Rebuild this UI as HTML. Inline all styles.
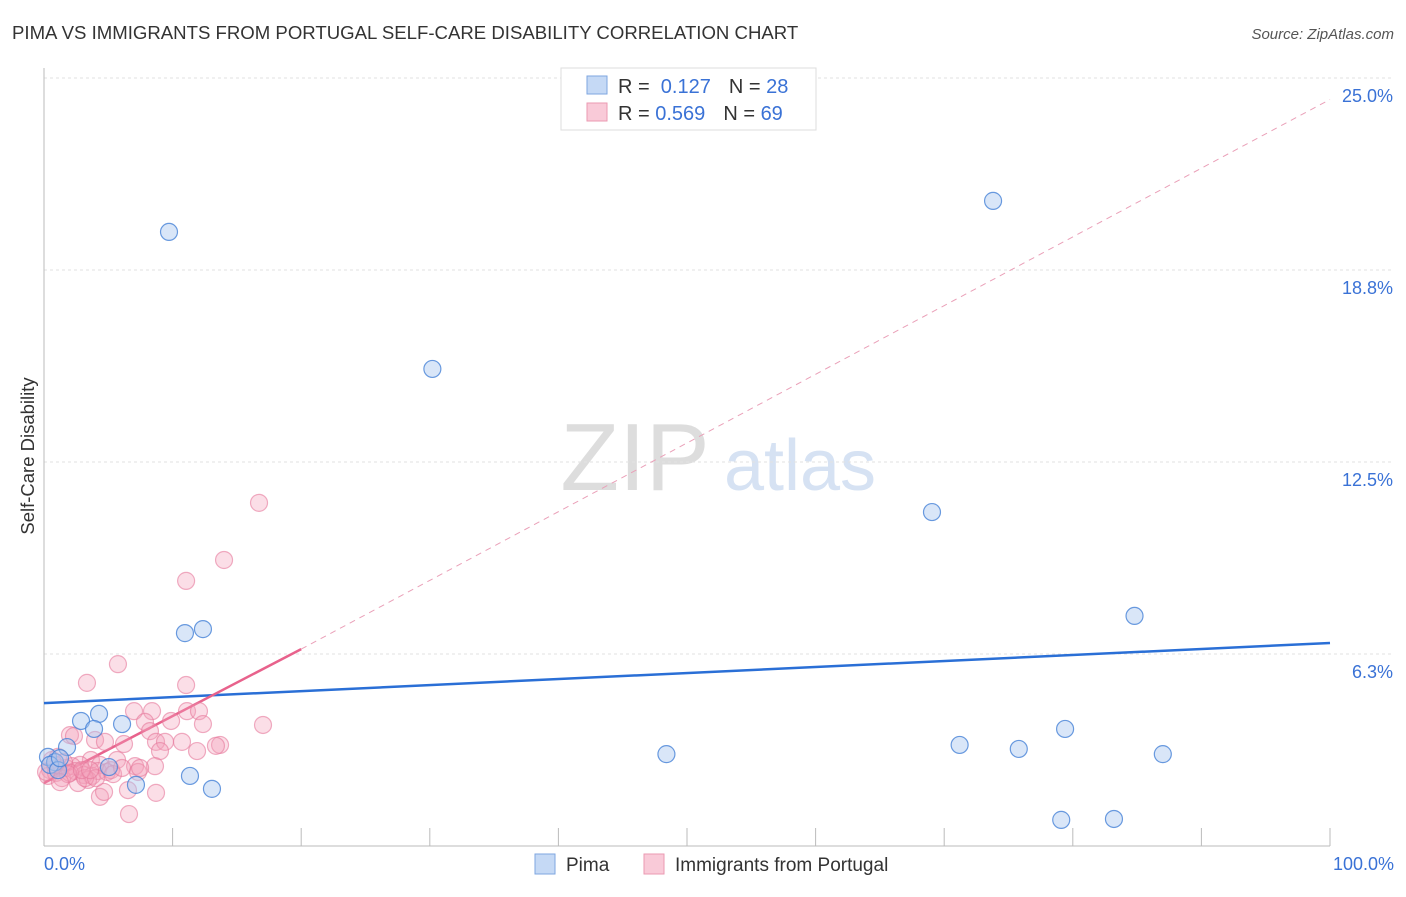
<!DOCTYPE html>
<html><head><meta charset="utf-8"><style>
body{margin:0;background:#fff;font-family:"Liberation Sans",sans-serif;}
svg text{font-family:"Liberation Sans",sans-serif;}
</style></head><body>
<svg id="chart" width="1406" height="892">
<text x="12" y="39" font-size="18.6" fill="#333">PIMA VS IMMIGRANTS FROM PORTUGAL SELF-CARE DISABILITY CORRELATION CHART</text>
<text x="1394" y="39" font-size="15" fill="#555" font-style="italic" text-anchor="end">Source: ZipAtlas.com</text>
<text x="34" y="456" font-size="18.5" fill="#333" text-anchor="middle" transform="rotate(-90 34 456)">Self-Care Disability</text>
<g><text x="635" y="490" font-size="96" fill="#ddd" font-family="Liberation Serif" text-anchor="middle">ZIP</text><text x="800" y="490" font-size="72" fill="#d6e2f3" text-anchor="middle">atlas</text></g>
<g id="grid"></g><g id="axes"></g><g id="lines"></g><g id="pts"></g>
<g>
<rect x="561" y="68" width="255" height="62" fill="#fff" stroke="#ddd"/>
<rect x="587" y="76" width="20" height="18" fill="#c5d9f5" stroke="#7ea6e0"/>
<text x="618" y="93" font-size="20" fill="#333">R = <tspan fill="#3a72d6">&#160;0.127</tspan><tspan dx="18">N = </tspan><tspan fill="#3a72d6">28</tspan></text>
<rect x="587" y="103" width="20" height="18" fill="#f9cad8" stroke="#eb9ab2"/>
<text x="618" y="120" font-size="20" fill="#333">R = <tspan fill="#3a72d6">0.569</tspan><tspan dx="18">N = </tspan><tspan fill="#3a72d6">69</tspan></text>
</g>
<g>
<rect x="535" y="854" width="20" height="20" fill="#c5d9f5" stroke="#7ea6e0"/>
<text x="566" y="871" font-size="19" fill="#333">Pima</text>
<rect x="644" y="854" width="20" height="20" fill="#f9cad8" stroke="#eb9ab2"/>
<text x="675" y="871" font-size="19" fill="#333">Immigrants from Portugal</text>
</g>
</svg>
<script>
const yTicks=[6.25,12.5,18.75,25];
const yTickLabels=["6.3%","12.5%","18.8%","25.0%"];
const xTickLabels=["0.0%","100.0%"];
const pimaX=[9.72,73.8,30.2,69.05,84.8,10.96,12.36,4.28,2.88,6.07,3.89,1.79,0.31,0.86,5.05,7.15,11.35,13.06,48.4,71.2,75.8,79.4,87.0,79.1,83.2,0.47,1.09,1.24];
const pimaY=[19.99,21.0,15.53,10.87,7.49,6.93,7.06,4.30,4.07,3.97,3.81,3.22,2.90,2.73,2.57,1.99,2.28,1.86,2.99,3.29,3.16,3.81,2.99,0.85,0.88,2.64,2.47,2.86];
const portX=[16.72,14.0,11.05,5.75,3.34,11.05,17.03,7.0,8.4,11.12,12.05,9.88,12.36,7.85,8.24,2.02,2.33,3.97,4.74,6.22,8.71,9.41,10.73,11.9,13.69,13.37,9.02,5.68,7.08,8.63,7.31,3.65,4.35,2.80,2.18,1.71,1.09,0.47,0.31,0.93,1.40,2.41,3.11,3.73,4.20,4.90,5.21,3.42,2.64,3.19,6.53,4.35,4.67,8.71,6.61,1.09,1.56,0.86,0.62,2.02,4.04,5.37,1.87,2.95,6.07,7.47,3.58,1.24,0.16];
const portY=[11.17,9.31,8.63,5.92,5.31,5.24,3.94,4.39,4.39,4.39,4.39,4.07,3.97,4.04,3.74,3.61,3.58,3.45,3.39,3.32,3.39,3.39,3.39,3.09,3.29,3.26,3.09,2.80,2.60,2.60,2.41,2.80,2.64,2.64,2.60,2.54,2.54,2.47,2.28,2.38,2.21,2.44,2.31,2.28,2.44,2.41,2.47,2.15,2.05,2.21,1.82,1.60,1.76,1.73,1.04,2.90,2.73,2.64,2.80,2.38,2.21,2.34,2.34,2.47,2.54,2.54,2.47,2.08,2.41];
const pimaTrend=[4.65,6.61];
const portTrend=[2.05,6.41,24.3];
const portTrendX=[0,20,100];
const NS="http://www.w3.org/2000/svg";
const X=v=>44+v*12.86, Y=v=>846-v*30.72;
function mk(tag,attrs,parent){const e=document.createElementNS(NS,tag);for(const k in attrs)e.setAttribute(k,attrs[k]);document.getElementById(parent).appendChild(e);return e;}
yTicks.forEach((t,i)=>{
 const g=mk('line',{x1:44,x2:1394,y1:Y(t),y2:Y(t),stroke:'#e2e2e2','stroke-dasharray':'3,3'},'grid');
 
 
 const l=mk('text',{x:1393,y:Y(t)+24,'font-size':18,fill:'#3a72d6','text-anchor':'end'},'axes');
 l.textContent=yTickLabels[i];
 
 
});
const ax=mk('line',{x1:44,x2:1330,y1:846,y2:846,stroke:'#bbb'},'axes');


const ay=mk('line',{x1:44,x2:44,y1:68,y2:846,stroke:'#bbb'},'axes');


for(let i=1;i<=10;i++){const t=mk('line',{x1:X(i*10),x2:X(i*10),y1:828,y2:846,stroke:'#bbb'},'axes');
 
 }
[[0,'start',44],[100,'end',1394]].forEach((d,i)=>{const t=mk('text',{x:d[2],y:870,'font-size':18,fill:'#3a72d6','text-anchor':d[1]},'axes');t.textContent=xTickLabels[i];
 
 });
const bl=mk('line',{x1:X(0),y1:Y(pimaTrend[0]),x2:X(100),y2:Y(pimaTrend[1]),stroke:'#2a6fd6','stroke-width':2.5},'lines');


const pl=mk('line',{x1:X(portTrendX[0]),y1:Y(portTrend[0]),x2:X(portTrendX[1]),y2:Y(portTrend[1]),stroke:'#e8628c','stroke-width':2.5},'lines');


const pd=mk('line',{x1:X(portTrendX[1]),y1:Y(portTrend[1]),x2:X(portTrendX[2]),y2:Y(portTrend[2]),stroke:'#eaa0b8','stroke-width':1,'stroke-dasharray':'6,5'},'lines');


portX.forEach((x,i)=>{const c=mk('circle',{cx:X(x),cy:Y(portY[i]),r:8.5,fill:'rgba(244,160,186,0.35)',stroke:'rgba(230,120,155,0.6)','stroke-width':1.2},'pts');
 
 });
pimaX.forEach((x,i)=>{const c=mk('circle',{cx:X(x),cy:Y(pimaY[i]),r:8.5,fill:'rgba(170,200,240,0.45)',stroke:'rgba(70,130,215,0.8)','stroke-width':1.2},'pts');
 
 });
</script>
</body></html>
